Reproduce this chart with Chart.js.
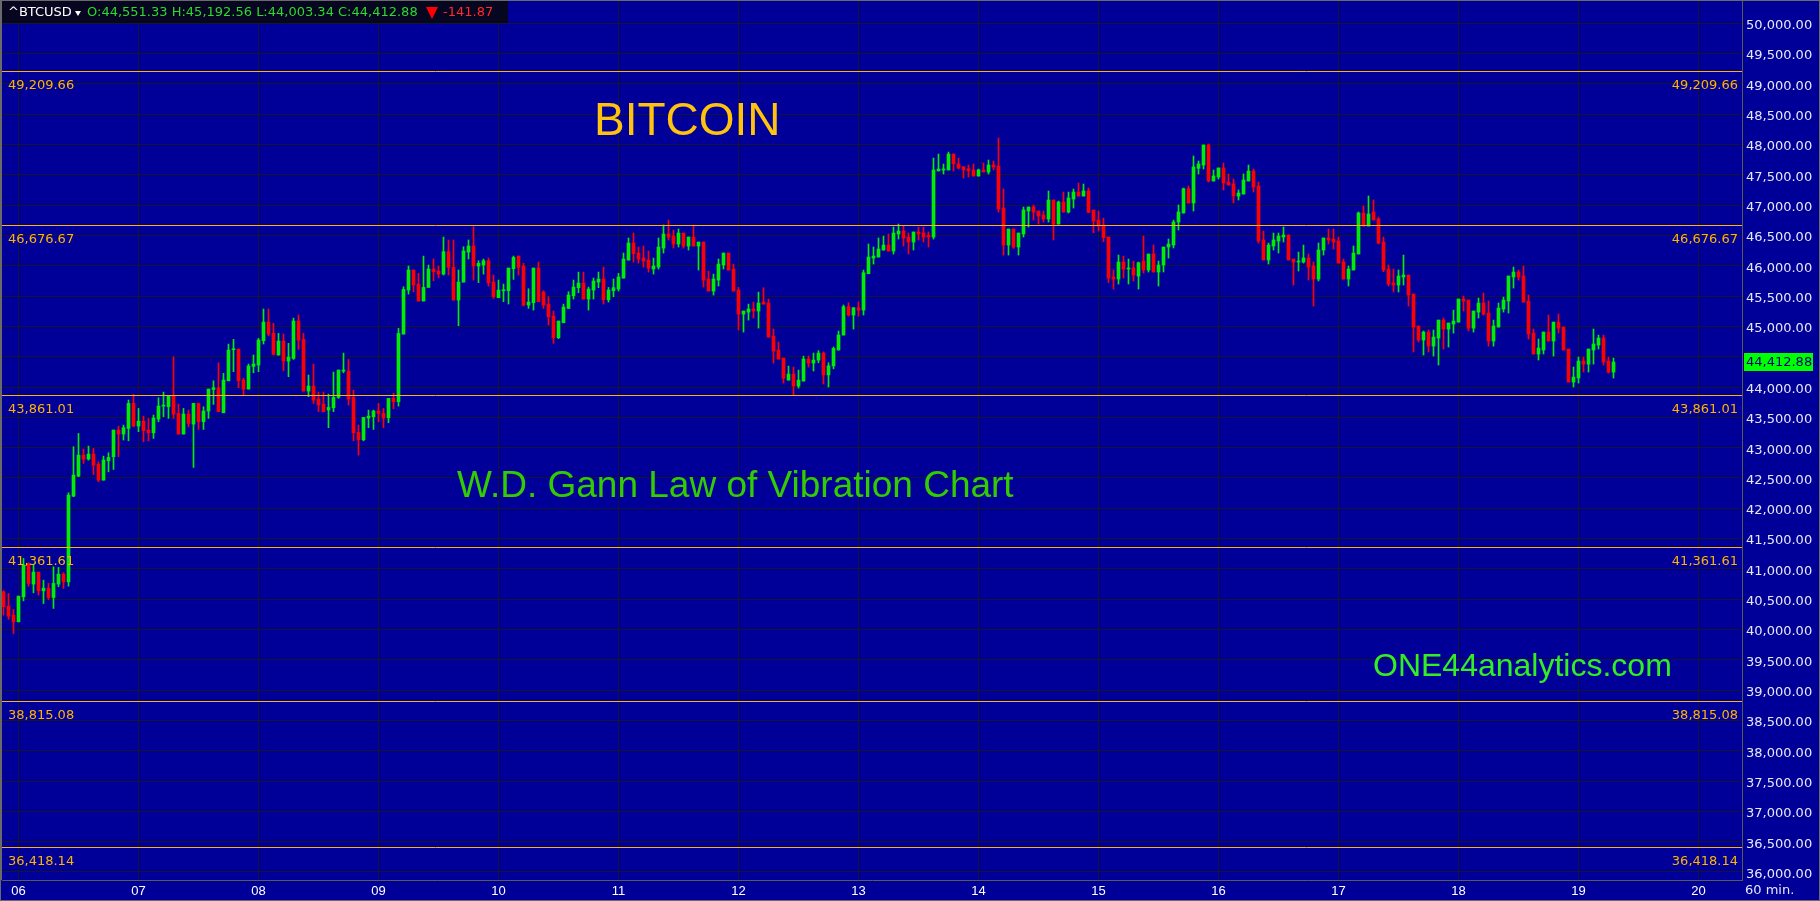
<!DOCTYPE html>
<html>
<head>
<meta charset="utf-8">
<title>BTCUSD 60 min</title>
<script src="https://cdn.jsdelivr.net/npm/chart.js@4.4.1/dist/chart.umd.min.js"></script>
<style>
html, body { margin: 0; padding: 0; background: #000099; overflow: hidden; }
</style>
</head>
<body>
<canvas id="myChart" width="1820" height="901"></canvas>
<script>
// 60 min candles, first one is 05 21:00, day labels sit on 00:00 candles
var dayLabels = ["06", "07", "08", "09", "10", "11", "12", "13", "14", "15", "16", "17", "18", "19", "20"];
var dayTicks = [3, 27, 51, 75, 99, 123, 147, 171, 195, 219, 243, 267, 291, 315, 339];

var yTicks = [36000, 36500, 37000, 37500, 38000, 38500, 39000, 39500, 40000, 40500,
  41000, 41500, 42000, 42500, 43000, 43500, 44000, 44500, 45000, 45500,
  46000, 46500, 47000, 47500, 48000, 48500, 49000, 49500, 50000];

// Gann law of vibration levels
var gannLevels = [49209.66, 46676.67, 43861.01, 41361.61, 38815.08, 36418.14];

var opens = [
  40622, 40385, 40237, 40127, 40540, 41078, 40749, 40947, 40638, 40677,
  40528, 40749, 40913, 40787, 42200, 42530, 42877, 42811, 42893, 42728,
  42464, 42783, 42850, 43290, 43224, 43317, 43730, 43356, 43438, 43290,
  43245, 43471, 43685, 43674, 43850, 43564, 43224, 43553, 43388, 43730,
  43427, 43603, 43960, 43988, 43575, 44103, 44615, 44626, 44114, 43966,
  44340, 44362, 44764, 45071, 44885, 44527, 44758, 44428, 44472, 45088,
  44785, 43933, 44016, 43801, 43718, 43620, 43658, 43828, 44263, 44263,
  43828, 43251, 43130, 43487, 43509, 43603, 43564, 43493, 43812, 43757,
  44873, 45599, 45930, 45698, 45418, 45643, 45946, 45913, 45863, 46232,
  45974, 45434, 45731, 46226, 46325, 45996, 46012, 46083, 45731, 45473,
  45588, 45588, 45951, 46160, 45996, 45352, 45390, 45962, 45566, 45368,
  45170, 44813, 45060, 45297, 45506, 45638, 45715, 45451, 45599, 45731,
  45781, 45440, 45588, 45616, 45797, 46094, 46375, 46210, 46127, 46094,
  45946, 45979, 46292, 46523, 46491, 46358, 46540, 46325, 46474, 46325,
  46391, 45781, 45583, 45764, 46012, 46210, 45946, 45599, 45203, 45236,
  45286, 45253, 45401, 45385, 44840, 44609, 44477, 44114, 44213, 44016,
  44098, 44461, 44395, 44444, 44560, 44200, 44350, 44610, 44857, 45325,
  45187, 45308, 45269, 45869, 46127, 46144, 46259, 46342, 46243, 46524,
  46573, 46474, 46392, 46557, 46540, 46507, 46474, 47564, 47580, 47580,
  47843, 47678, 47634, 47601, 47580, 47480, 47580, 47547, 47662, 47645,
  46952, 46342, 46606, 46309, 46524, 46903, 46969, 46903, 46837, 46771,
  47085, 46688, 47051, 46886, 47101, 47216, 47150, 47233, 46919, 46754,
  46672, 46474, 45814, 45781, 46061, 45946, 45963, 45830, 46078, 45930,
  46193, 45897, 46012, 46309, 46342, 46722, 46870, 47271, 47035, 47608,
  47662, 47992, 47398, 47464, 47613, 47381, 47348, 47150, 47183, 47398,
  47563, 47316, 46425, 46095, 46326, 46408, 46474, 46507, 46111, 46062,
  46062, 46128, 45996, 45781, 46260, 46458, 46441, 46408, 46062, 45781,
  45930, 46194, 46870, 46656, 46887, 46771, 46392, 45946, 45715, 45682,
  45814, 45847, 45534, 45006, 44775, 44907, 44675, 44808, 45104, 44956,
  45039, 45071, 45451, 45434, 44972, 45236, 45385, 45220, 44758, 44989,
  45286, 45418, 45814, 45897, 45830, 45418, 44890, 44544, 44610, 44907,
  44758, 45071, 44989, 44626, 44082, 44148, 44428, 44378, 44610, 44692,
  44808, 44428, 44246
];

var highs = [
  40640, 40595, 40330, 40550, 41172, 41100, 41078, 40947, 40814, 40760,
  41034, 41023, 40936, 42255, 43015, 43234, 42976, 43025, 42987, 42767,
  42860, 42915, 43290, 43356, 43372, 43785, 43878, 43647, 43520, 43482,
  43537, 43823, 43916, 43850, 44500, 43718, 43647, 43619, 43730, 43730,
  43674, 43966, 44103, 44400, 44225, 44708, 44786, 44626, 44142, 44379,
  44527, 44802, 45286, 45286, 45050, 44885, 44873, 44720, 45137, 45187,
  44885, 44197, 44378, 43917, 43917, 43883, 44247, 44280, 44560, 44455,
  43949, 43372, 43498, 43619, 43619, 43729, 43647, 43812, 43895, 44967,
  45654, 45996, 45930, 45874, 46160, 46012, 46111, 45996, 46474, 46425,
  46425, 45930, 46314, 46425, 46644, 46083, 46111, 46128, 45847, 45764,
  45698, 45962, 46160, 46160, 46040, 45621, 45962, 46061, 45588, 45489,
  45253, 45088, 45368, 45572, 45764, 45896, 45896, 45649, 45797, 45896,
  45979, 45643, 45781, 45874, 46210, 46458, 46540, 46309, 46325, 46243,
  46127, 46458, 46672, 46754, 46589, 46606, 46540, 46474, 46672, 46391,
  46391, 45913, 45863, 46111, 46210, 46210, 46028, 45643, 45253, 45368,
  45401, 45566, 45638, 45451, 44956, 44742, 44477, 44345, 44329, 44279,
  44510, 44510, 44560, 44600, 44580, 44400, 44660, 44923, 45352, 45391,
  45308, 45407, 45929, 46359, 46309, 46458, 46490, 46523, 46639, 46688,
  46655, 46540, 46557, 46639, 46639, 46557, 47777, 47843, 47678, 47876,
  47843, 47777, 47634, 47662, 47678, 47596, 47695, 47744, 47728, 48107,
  47266, 46606, 46606, 46540, 46969, 46969, 47002, 46903, 46903, 47233,
  47085, 47068, 47216, 47216, 47266, 47365, 47348, 47282, 46919, 46903,
  46787, 46474, 45930, 46177, 46160, 46111, 46078, 46061, 46491, 46193,
  46342, 46078, 46309, 46441, 46754, 47002, 47282, 47315, 47811, 47728,
  47992, 48009, 47580, 47613, 47695, 47514, 47431, 47250, 47514, 47662,
  47596, 47381, 46573, 46375, 46540, 46540, 46639, 46507, 46111, 46227,
  46342, 46194, 46062, 46375, 46458, 46606, 46606, 46474, 46111, 45996,
  46326, 46887, 46986, 47151, 47085, 46804, 46474, 46012, 45946, 45930,
  46177, 45847, 45534, 45006, 44923, 44940, 44940, 45104, 45137, 45055,
  45269, 45451, 45500, 45434, 45253, 45467, 45550, 45418, 45104, 45385,
  45484, 45830, 45979, 45930, 45996, 45517, 44956, 44791, 44907, 45187,
  45071, 45203, 44989, 44626, 44329, 44494, 44494, 44626, 44956, 44857,
  44857, 44494, 44478
];

var lows = [
  40237, 40166, 39934, 40127, 40473, 40715, 40605, 40567, 40429, 40495,
  40347, 40705, 40677, 40715, 42190, 42520, 42740, 42794, 42558, 42437,
  42464, 42602, 42640, 42850, 43125, 43113, 43344, 43262, 43097, 43113,
  43152, 43427, 43509, 43482, 43482, 43224, 43224, 43344, 42673, 43300,
  43300, 43482, 43713, 43592, 43575, 44103, 44252, 43988, 43867, 43966,
  44235, 44252, 44709, 44846, 44530, 44527, 44268, 44170, 44455, 44620,
  43933, 43840, 43730, 43592, 43592, 43328, 43592, 43812, 44235, 43702,
  43113, 42877, 43113, 43328, 43300, 43427, 43328, 43410, 43641, 43685,
  44873, 45533, 45572, 45418, 45418, 45643, 45754, 45803, 45847, 45847,
  45434, 45011, 45731, 46111, 45764, 45721, 45863, 45665, 45462, 45473,
  45407, 45369, 45775, 45847, 45335, 45297, 45269, 45407, 45297, 45022,
  44720, 44797, 45060, 45297, 45451, 45555, 45451, 45269, 45451, 45638,
  45368, 45401, 45489, 45583, 45797, 46094, 46061, 46045, 45979, 45896,
  45863, 45946, 46210, 46425, 46292, 46309, 46292, 46259, 46325, 45929,
  45649, 45583, 45517, 45665, 45946, 45929, 45583, 44940, 44906, 45104,
  45137, 44972, 45368, 44824, 44395, 44461, 44065, 44114, 43867, 43982,
  44098, 44329, 44263, 44400, 44050, 44000, 44300, 44610, 44857, 45170,
  44956, 45170, 45187, 45869, 46028, 46144, 46259, 46243, 46194, 46441,
  46326, 46194, 46260, 46425, 46392, 46309, 46441, 47564, 47514, 47580,
  47563, 47596, 47448, 47464, 47480, 47480, 47547, 47514, 47580, 46886,
  46177, 46177, 46287, 46177, 46474, 46639, 46754, 46688, 46721, 46721,
  46425, 46688, 46886, 46870, 46952, 47150, 47150, 46881, 46546, 46573,
  46397, 45720, 45616, 45698, 45797, 45699, 45748, 45616, 45880, 45896,
  45897, 45666, 45897, 46127, 46293, 46590, 46870, 47035, 46903, 47514,
  47596, 47381, 47398, 47431, 47249, 47332, 47035, 47085, 47183, 47398,
  47217, 46375, 46095, 46029, 46260, 46210, 46392, 46095, 45682, 45913,
  46045, 45764, 45336, 45748, 46177, 46359, 46276, 46045, 45781, 45666,
  45930, 46194, 46656, 46656, 46755, 46359, 45902, 45666, 45567, 45567,
  45682, 45336, 44577, 44742, 44527, 44577, 44510, 44362, 44626, 44659,
  44890, 45071, 45253, 44923, 44906, 45137, 45187, 44675, 44675, 44989,
  45236, 45220, 45632, 45764, 45401, 44791, 44544, 44445, 44544, 44758,
  44510, 44890, 44610, 44082, 44000, 44065, 44247, 44247, 44378, 44626,
  44362, 44230, 44148
];

var closes = [
  40374, 40220, 40127, 40550, 41062, 40760, 40947, 40638, 40682, 40528,
  40760, 40913, 40787, 42217, 42547, 42877, 42811, 42893, 42712, 42464,
  42794, 42838, 43290, 43224, 43328, 43730, 43356, 43438, 43278, 43245,
  43487, 43685, 43696, 43850, 43553, 43224, 43553, 43400, 43730, 43427,
  43603, 43966, 43988, 43592, 44114, 44609, 44626, 44103, 43966, 44346,
  44379, 44775, 45071, 44874, 44543, 44758, 44428, 44494, 45088, 44774,
  43933, 44016, 43784, 43702, 43592, 43664, 43828, 44280, 44268, 43801,
  43245, 43130, 43498, 43520, 43603, 43564, 43493, 43812, 43757, 44884,
  45610, 45930, 45682, 45418, 45643, 45946, 45902, 45863, 46232, 45974,
  45434, 45731, 46243, 46325, 45996, 46040, 46083, 45721, 45490, 45599,
  45599, 45962, 46138, 45974, 45352, 45401, 45962, 45407, 45352, 45159,
  44813, 45088, 45319, 45517, 45649, 45715, 45451, 45616, 45748, 45781,
  45440, 45599, 45638, 45814, 46111, 46375, 46199, 46111, 46078, 45962,
  45996, 46309, 46523, 46474, 46358, 46540, 46325, 46474, 46325, 46391,
  45764, 45583, 45781, 46028, 46210, 45929, 45583, 45203, 45253, 45286,
  45253, 45385, 45368, 44824, 44593, 44461, 44147, 44213, 44016, 44114,
  44461, 44395, 44444, 44560, 44200, 44350, 44637, 44857, 45325, 45187,
  45308, 45269, 45885, 46144, 46160, 46276, 46342, 46243, 46540, 46573,
  46457, 46392, 46557, 46524, 46474, 46474, 47580, 47596, 47596, 47843,
  47684, 47612, 47580, 47568, 47480, 47580, 47547, 47662, 47629, 46936,
  46342, 46606, 46309, 46540, 46919, 46969, 46886, 46820, 46771, 47085,
  46688, 47051, 46886, 47118, 47216, 47150, 47233, 46881, 46738, 46655,
  46463, 45798, 45781, 46061, 45946, 45963, 45847, 46050, 45930, 46193,
  45897, 46012, 46309, 46358, 46722, 46887, 47271, 47035, 47629, 47679,
  47992, 47398, 47481, 47613, 47365, 47332, 47150, 47200, 47415, 47563,
  47299, 46408, 46095, 46342, 46425, 46491, 46507, 46095, 46062, 46078,
  46128, 45979, 45781, 46260, 46458, 46425, 46392, 46045, 45781, 45946,
  46210, 46870, 46656, 46854, 46755, 46375, 45930, 45699, 45682, 45831,
  45847, 45517, 44989, 44775, 44907, 44675, 44824, 45104, 44956, 45055,
  45088, 45451, 45418, 44972, 45253, 45385, 45203, 44758, 45006, 45302,
  45434, 45830, 45897, 45814, 45401, 44874, 44544, 44643, 44907, 44758,
  45071, 44972, 44610, 44082, 44164, 44428, 44378, 44626, 44709, 44808,
  44412, 44246, 44413
];

// header quote
var quoteParts = ["O:44,551.33", "H:45,192.56", "L:44,003.34", "C:44,412.88"];
var quoteChange = "-141.87";
var lastPrice = 44412.88;

var bgBlue = "#000099";
var gridColor = "#15152e";
var gannColor = "#ffb400";
var upColor = "#00ee00";
var downColor = "#ff0000";

function fmt(v) {
  return v.toLocaleString("en-US", { minimumFractionDigits: 2, maximumFractionDigits: 2 });
}

var candleColors = opens.map(function(o, i) { return closes[i] >= o ? upColor : downColor; });
var wicks = opens.map(function(o, i) { return { x: i, y: [lows[i], highs[i]] }; });
var bodies = opens.map(function(o, i) { return { x: i, y: [o, closes[i]] }; });

// background, gann lines, texts, header
var gannPlugin = {
  id: "gann",
  beforeDraw: function(chart) {
    var c = chart.ctx;
    c.save();
    c.fillStyle = bgBlue;
    c.fillRect(0, 0, chart.width, chart.height);
    c.restore();
  },
  afterDatasetsDraw: function(chart) {
    var c = chart.ctx, ys = chart.scales.y, area = chart.chartArea;
    c.save();
    c.font = '13px "DejaVu Sans"';
    c.textBaseline = "middle";
    gannLevels.forEach(function(lv) {
      var py = Math.round(ys.getPixelForValue(lv)) + 0.5;
      c.strokeStyle = gannColor;
      c.lineWidth = 1;
      c.beginPath();
      c.moveTo(0, py);
      c.lineTo(area.right, py);
      c.stroke();
      c.fillStyle = gannColor;
      c.textAlign = "left";
      c.fillText(fmt(lv), 8, py + 14);
      c.textAlign = "right";
      c.fillText(fmt(lv), area.right - 4, py + 14);
    });

    c.textAlign = "left";
    c.fillStyle = "#ffc20e";
    c.font = '46px "Liberation Sans"';
    c.fillText("BITCOIN", 594, 122);
    c.fillStyle = "#33cc00";
    c.font = '37px "Liberation Sans"';
    c.fillText("W.D. Gann Law of Vibration Chart", 457, 487);
    c.fillStyle = "#33ee22";
    c.font = '32px "Liberation Sans"';
    c.fillText("ONE44analytics.com", 1373, 667);
    c.restore();
  },
  afterDraw: function(chart) {
    var c = chart.ctx, ys = chart.scales.y, area = chart.chartArea;
    c.save();
    // header box
    c.fillStyle = "#060620";
    c.fillRect(0, 0, 508, 23);
    c.font = '13px "DejaVu Sans"';
    c.textBaseline = "middle";
    c.textAlign = "left";
    c.fillStyle = "#ffffff";
    c.fillText("^BTCUSD", 8, 13);
    c.beginPath();
    c.moveTo(75, 11); c.lineTo(81, 11); c.lineTo(78, 16);
    c.closePath(); c.fill();
    c.fillStyle = "#2ed82e";
    c.fillText(quoteParts.join(" "), 87, 13);
    c.fillStyle = "#ff0000";
    c.beginPath();
    c.moveTo(426, 7); c.lineTo(438, 7); c.lineTo(432, 19);
    c.closePath(); c.fill();
    c.fillStyle = "#ff2a2a";
    c.fillText(quoteChange, 443, 13);

    // last price tag
    var py = ys.getPixelForValue(lastPrice);
    c.fillStyle = "#00ff00";
    c.fillRect(area.right + 2, Math.round(py) - 9, 69, 18);
    c.fillStyle = "#000080";
    c.fillText(fmt(lastPrice), area.right + 4, py + 1);

    c.fillStyle = "#e8e8f8";
    c.fillText("60 min.", area.right + 3, 891);

    // outer frame
    c.strokeStyle = "#6a6a6a";
    c.lineWidth = 1;
    c.strokeRect(0.5, 0.5, chart.width - 1, chart.height - 1);
    c.beginPath();
    c.moveTo(1.5, 0); c.lineTo(1.5, area.bottom);
    c.stroke();
    c.restore();
  }
};

var ctx = document.getElementById("myChart").getContext("2d");
var myChart = new Chart(ctx, {
  type: "bar",
  data: {
    datasets: [{
      data: wicks,
      backgroundColor: candleColors,
      barThickness: 1,
      grouped: false,
      borderWidth: 0
    }, {
      data: bodies,
      backgroundColor: candleColors,
      barThickness: 3,
      grouped: false,
      borderWidth: 0,
      minBarLength: 1
    }]
  },
  options: {
    responsive: false,
    animation: false,
    events: [],
    layout: { padding: { left: 2, top: 0, right: 0, bottom: 0 } },
    plugins: { legend: { display: false }, tooltip: { enabled: false } },
    scales: {
      x: {
        type: "linear",
        min: -0.3,
        max: 347.7,
        offset: false,
        grid: { color: gridColor, lineWidth: 1, drawTicks: false, offset: false },
        border: { display: true, color: "#5a5a5a" },
        afterBuildTicks: function(s) { s.ticks = dayTicks.map(function(v) { return { value: v }; }); },
        afterFit: function(s) {
          s.height = 21;
          s.paddingLeft = 0;
          s.paddingRight = 0;
        },
        ticks: {
          color: "#ffffff",
          font: { family: "Liberation Sans", size: 13 },
          padding: 4,
          maxRotation: 0,
          autoSkip: false,
          callback: function(v, i) { return dayLabels[i]; }
        }
      },
      y: {
        position: "right",
        min: 35868,
        max: 50384,
        grid: { color: gridColor, lineWidth: 1, drawTicks: false },
        border: { display: true, color: "#5a5a5a" },
        afterBuildTicks: function(s) { s.ticks = yTicks.map(function(v) { return { value: v }; }); },
        afterFit: function(s) {
          s.width = 78;
          s.paddingTop = 0;
          s.paddingBottom = 0;
        },
        ticks: {
          color: "#e8e8f8",
          font: { family: "DejaVu Sans", size: 13 },
          padding: 4,
          labelOffset: 2.5,
          autoSkip: false,
          callback: function(v) { return fmt(v); }
        }
      }
    }
  },
  plugins: [gannPlugin]
});
</script>
</body>
</html>
